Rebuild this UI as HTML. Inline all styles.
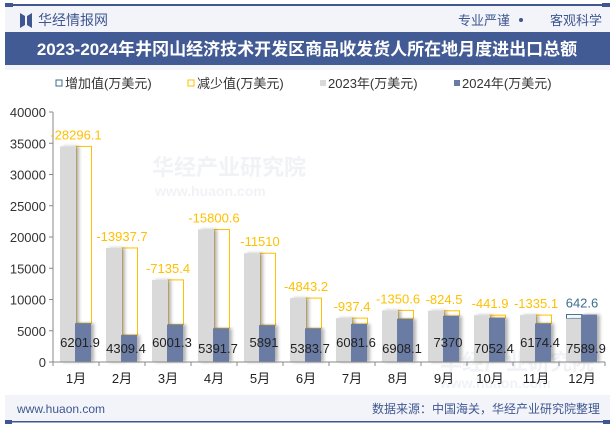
<!DOCTYPE html>
<html><head><meta charset="utf-8"><style>
body{margin:0;background:#fff;}
svg text{font-family:"Liberation Sans","Noto Sans CJK SC",sans-serif;}
</style></head><body>
<svg id="chart" width="615" height="427" xmlns="http://www.w3.org/2000/svg">
<rect x="5" y="5" width="605" height="417" fill="#f3f4f9"/>
<rect x="5" y="4" width="605" height="2" fill="#3e5791"/>
<rect x="5" y="3" width="8" height="4" fill="#3e5791"/><rect x="602" y="3" width="8" height="4" fill="#3e5791"/>
<g><path d="M20 13 L25 16 L25 25 L20 28 Z M32 13 L27 16 L27 25 L32 28 Z" fill="#3e5791"/></g>
<text x="38" y="25" font-size="14" fill="#3e5791">华经情报网</text>
<text x="510" y="25" font-size="13" fill="#3e5791" text-anchor="end">专业严谨</text>
<circle cx="521" cy="20" r="2" fill="#3e5791"/>
<text x="602" y="25" font-size="13" fill="#3e5791" text-anchor="end">客观科学</text>
<rect x="5" y="32" width="605" height="33" fill="#435b94"/>
<text x="307" y="55" font-size="17" font-weight="bold" fill="#fff" text-anchor="middle">2023-2024年井冈山经济技术开发区商品收发货人所在地月度进出口总额</text>
<rect x="5" y="70" width="605" height="325" fill="#fff"/>
<g font-size="13" fill="#333">
<g><rect x="56" y="80" width="6" height="6" fill="none" stroke="#3b6e8f" stroke-width="1"/><text x="65" y="88">增加值(万美元)</text></g>
<g><rect x="188" y="80" width="6" height="6" fill="none" stroke="#ffc000" stroke-width="1"/><text x="197" y="88">减少值(万美元)</text></g>
<g><rect x="320" y="80" width="6" height="6" fill="#d9d9d9"/><text x="328" y="88">2023年(万美元)</text></g>
<g><rect x="454" y="80" width="6" height="6" fill="#6a7ba3"/><text x="462" y="88">2024年(万美元)</text></g>
</g>
<g id="wm" opacity="0.12" font-weight="bold" fill="#8899bb">
<text x="152" y="175" font-size="22">华经产业研究院</text><text x="155" y="196" font-size="14">www.huaon.com</text>
<text x="440" y="370" font-size="22">华经产业研究院</text><text x="440" y="388" font-size="14">www.huaon.com</text>
</g>
<g id="plot"></g>
<text x="17" y="413" font-size="12" fill="#3e5791">www.huaon.com</text>
<text x="600" y="413" font-size="12" fill="#3e5791" text-anchor="end">数据来源：中国海关，华经产业研究院整理</text>
<rect x="5" y="421" width="605" height="1.5" fill="#3e5791"/>
<rect x="5" y="420" width="7" height="4" fill="#3e5791"/><rect x="603" y="420" width="7" height="4" fill="#3e5791"/>
</svg>
<script>
const categories=["1月","2月","3月","4月","5月","6月","7月","8月","9月","10月","11月","12月"];
const values2023=[34498,18247.1,13136.7,21192.3,17401,10226.9,7019,8258.7,8194.5,7494.3,7509.5,6947.3];
const values2024=[6201.9,4309.4,6001.3,5391.7,5891,5383.7,6081.6,6908.1,7370,7052.4,6174.4,7589.9];
const diffLabels=["-28296.1","-13937.7","-7135.4","-15800.6","-11510","-4843.2","-937.4","-1350.6","-824.5","-441.9","-1335.1","642.6"];
const valueLabels=["6201.9","4309.4","6001.3","5391.7","5891","5383.7","6081.6","6908.1","7370","7052.4","6174.4","7589.9"];
const yTicks=[0,5000,10000,15000,20000,25000,30000,35000,40000];
const NS="http://www.w3.org/2000/svg";
const g=document.getElementById('plot');
const x0=53,x1=605,y0=362,y1=112,ymax=40000;
const bw=(x1-x0)/categories.length;
const y=v=>y0-(v/ymax)*(y0-y1);
const cx=i=>x0+bw*(i+0.5);
function el(t,a){const e=document.createElementNS(NS,t);for(const k in a)e.setAttribute(k,a[k]);g.appendChild(e);return e;}
let d=document.createElementNS(NS,'defs');d.innerHTML='<filter id="sh" x="-20%" y="-5%" width="160%" height="110%"><feDropShadow dx="3" dy="0" stdDeviation="1.5" flood-color="#000" flood-opacity="0.3"/></filter>';g.appendChild(d);
let ax=el('line',{x1:x0,y1:y1,x2:x0,y2:y0,stroke:'#888'});

yTicks.forEach(t=>{
 el('line',{x1:x0-4,x2:x0,y1:y(t),y2:y(t),stroke:'#888'});
 let tx=el('text',{x:x0-7,y:y(t)+5,'font-size':13,'text-anchor':'end',fill:'#333'});tx.textContent=t;
 
});
categories.forEach((c,i)=>{
 const cc=cx(i);
 el('line',{x1:x0+bw*i,x2:x0+bw*i,y1:y0,y2:y0+4,stroke:'#888'});
 const inc=values2024[i]>values2023[i];
 const top=Math.max(values2023[i],values2024[i]);
 let bx=el('rect',{x:inc?cc-15.5:cc,y:y(top),width:15.5,height:Math.abs(y(values2023[i])-y(values2024[i])),fill:'none',stroke:inc?'#3b6e8f':'#ffc000','stroke-width':1});
 
 let b1=el('rect',{x:cc-16,y:y(values2023[i]),width:16,height:y0-y(values2023[i]),fill:'#d9d9d9',filter:'url(#sh)'});
 
 let b2=el('rect',{x:cc-1,y:y(values2024[i]),width:16,height:y0-y(values2024[i]),fill:'#6a7ba3',filter:'url(#sh)'});
 
 let dl=el('text',{x:cc,y:y(top)-7,'font-size':13,'text-anchor':'middle',fill:inc?'#3b6e8f':'#ffc000'});dl.textContent=diffLabels[i];
 
 let vl=el('text',{x:cc+4,y:(i%2?353:347),'font-size':13,'text-anchor':'middle',fill:'#222'});vl.textContent=valueLabels[i];
 
 let cl=el('text',{x:cc,y:383,'font-size':13,'text-anchor':'middle',fill:'#222'});cl.textContent=c;
 
});
el('line',{x1:x1,x2:x1,y1:y0,y2:y0+4,stroke:'#888'});
let xa=el('line',{x1:x0,y1:y0,x2:x1,y2:y0,stroke:'#888'});

</script>
</body></html>
